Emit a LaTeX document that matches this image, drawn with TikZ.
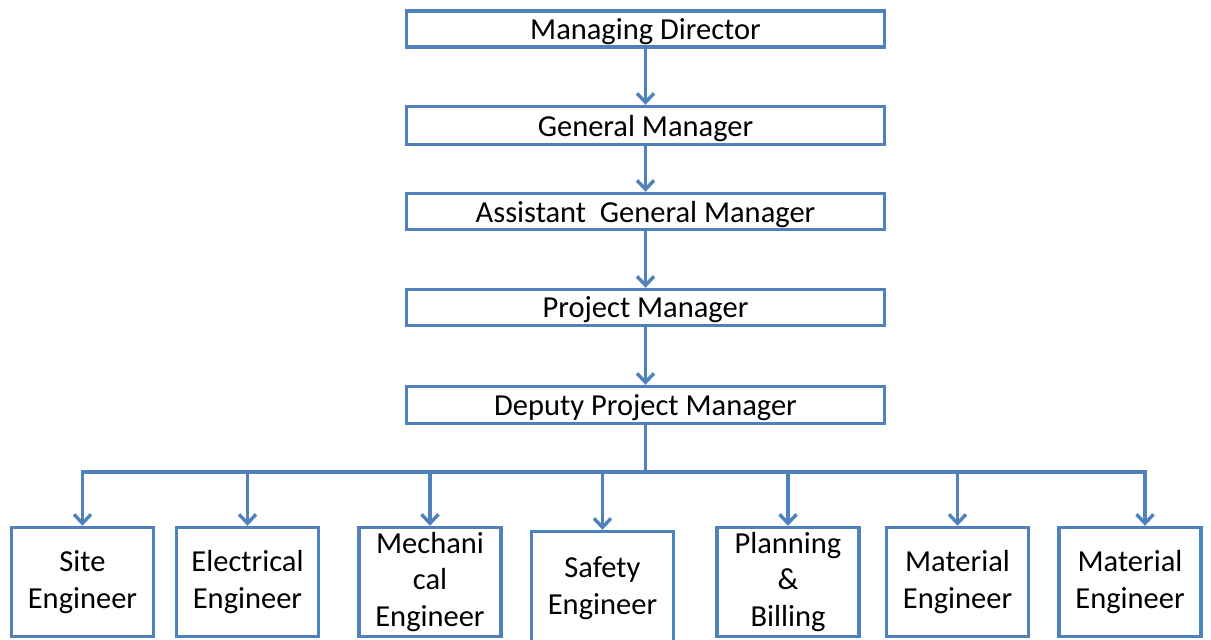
\documentclass[tikz,border=0pt]{standalone}
\usepackage{fontspec}
\setmainfont{Carlito}
\usetikzlibrary{arrows.meta}
\definecolor{boxblue}{RGB}{79,129,189}
\begin{document}
\begin{tikzpicture}[x=1pt,y=-1pt,
  box/.style={draw=boxblue,line width=3.4pt,fill=white,inner sep=0pt,align=center,
    font=\fontsize{30.5}{36.6}\selectfont},
  topbox/.style={box,minimum width=478pt,text depth=0pt,yshift=0pt},
  lowbox/.style={box,minimum width=142pt,minimum height=109pt},
  wire/.style={draw=boxblue,line width=3.4pt,line join=miter},
  link/.style={wire,-{Straight Barb[length=9pt,width=17pt]}}]
\useasboundingbox (0,0) rectangle (1211,640);

% management chain
\node[topbox,minimum height=36pt] (md)  at (645.5,29)    {Managing Director};
\node[topbox,minimum height=38pt] (gm)  at (645.5,125.5) {General Manager};
\node[topbox,minimum height=36pt] (agm) at (645.5,211.5) {Assistant~ General Manager};
\node[topbox,minimum height=36pt] (pm)  at (645.5,307.5) {Project Manager};
\node[topbox,minimum height=37pt] (dpm) at (645.5,405)   {Deputy Project Manager};

% site staff
\node[lowbox] (site) at (82.5,582)  {Site\\Engineer};
\node[lowbox] (elec) at (247.5,582) {Electrical\\Engineer};
\node[lowbox] (mech) at (430,582)   {Mechani\\cal\\Engineer};
\node[lowbox,minimum height=113pt] (safe) at (602.5,588) {Safety\\Engineer};
\node[lowbox] (plan) at (788,582)   {Planning\\\&\\Billing};
\node[lowbox] (mat1) at (957.5,582) {Material\\Engineer};
\node[lowbox] (mat2) at (1130,582)  {Material\\Engineer};

% chain arrows
\draw[link] (md.south)  -- (gm.north);
\draw[link] (gm.south)  -- (agm.north);
\draw[link] (agm.south) -- (pm.north);
\draw[link] (pm.south)  -- (dpm.north);

% distribution bus
\coordinate (busL) at (82.5,472);
\coordinate (busR) at (1145,472);
\coordinate (busM) at (dpm.south |- busL);
\draw[wire] (dpm.south) -- (busM);
\draw[link] (busM) -- (busL) -- (site.north);
\draw[link] (busM) -- (busR) -- (busR |- mat2.north);
\draw[link] (elec.north |- busL) -- (elec.north);
\draw[link] (mech.north |- busL) -- (mech.north);
\draw[link] (safe.north |- busL) -- (safe.north);
\draw[link] (plan.north |- busL) -- (plan.north);
\draw[link] (mat1.north |- busL) -- (mat1.north);
\end{tikzpicture}
\end{document}
